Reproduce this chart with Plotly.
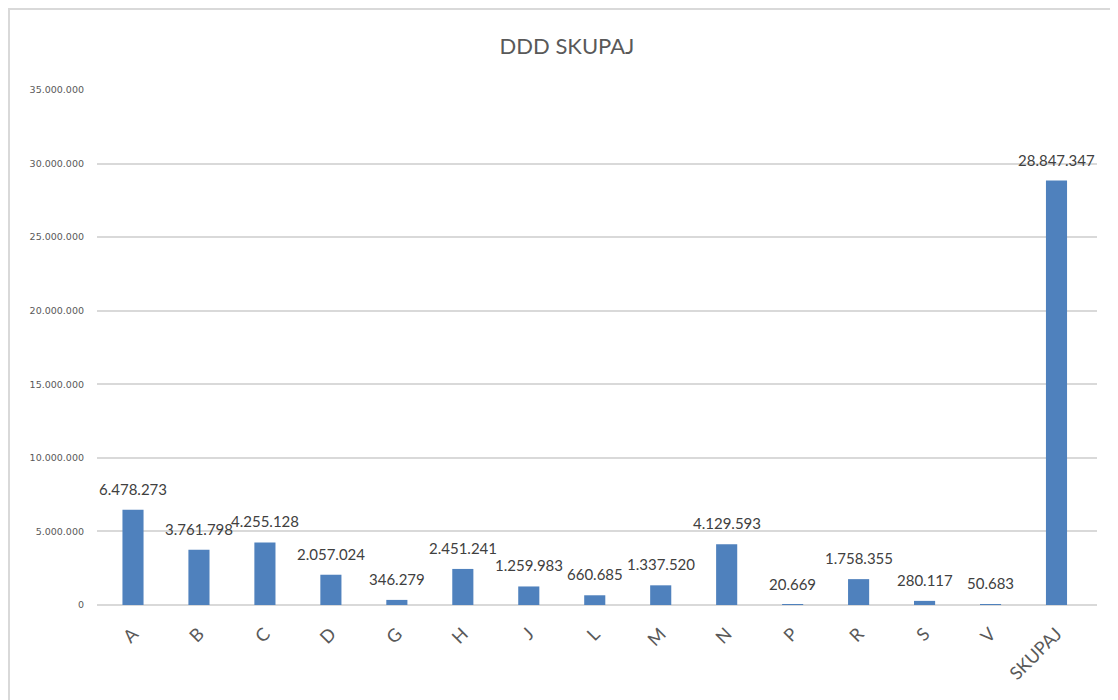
import plotly.graph_objects as go

categories = ["A", "B", "C", "D", "G", "H", "J", "L", "M", "N", "P", "R", "S", "V", "SKUPAJ"]
values = [6478273, 3761798, 4255128, 2057024, 346279, 2451241, 1259983, 660685,
          1337520, 4129593, 20669, 1758355, 280117, 50683, 28847347]
y_ticks = [0, 5000000, 10000000, 15000000, 20000000, 25000000, 30000000, 35000000]


def fmt(v):
    return f"{v:,}".replace(",", ".")


fig = go.Figure()
fig.add_trace(go.Bar(
    x=categories, y=values, width=0.32,
    marker=dict(color="#4F81BD", line=dict(width=0)),
    hoverinfo="x+y",
))

for c, v in zip(categories, values):
    fig.add_annotation(x=c, y=v, text=fmt(v), showarrow=False, yanchor="middle",
                       yshift=21, font=dict(family="Lato, Liberation Sans", size=15, color="#404040"))

fig.update_layout(
    width=1118, height=700,
    margin=dict(l=89, r=29, t=82, b=103, autoexpand=False),
    paper_bgcolor="white", plot_bgcolor="white",
    separators=",.",
    showlegend=False,
    title=dict(text="DDD SKUPAJ", x=0.5, xanchor="center", y=0.946, yanchor="middle",
               automargin=False,
               font=dict(family="Lato, Liberation Sans", size=22, color="#595959")),
    shapes=[dict(type="rect", xref="paper", yref="paper", x0=-0.088, x1=1.06,
                 y0=-0.3, y1=596 / 515.0,
                 line=dict(color="#d9d9d9", width=2), fillcolor="rgba(0,0,0,0)", layer="below")],
)

fig.update_xaxes(
    tickangle=-45, showgrid=False, showline=False, ticks="", automargin=False,
    ticklabelstandoff=14,
    tickfont=dict(family="Lato, Liberation Sans", size=18, color="#595959"),
)
fig.update_yaxes(
    range=[0, 35000000], tickvals=y_ticks, ticktext=[fmt(t) for t in y_ticks],
    showgrid=True, gridcolor="#d9d9d9", gridwidth=1.5, automargin=False,
    zeroline=True, zerolinecolor="#d9d9d9", zerolinewidth=1.5,
    showline=False, ticks="", ticklabelstandoff=12,
    tickfont=dict(family="DejaVu Sans", size=9.5, color="#595959"),
)

fig.write_html("out.html")
